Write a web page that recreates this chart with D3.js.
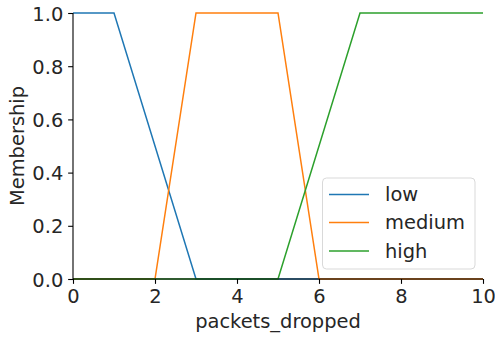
<!DOCTYPE html>
<html>
<head>
<meta charset="utf-8">
<script src="https://cdn.jsdelivr.net/npm/d3@7"></script>
<style>
  html, body { margin: 0; padding: 0; background: #fff; }
  svg { display: block; font-family: "DejaVu Sans", sans-serif; }
</style>
</head>
<body>
<svg id="chart" width="495" height="337"></svg>
<script>
// Membership functions for packets_dropped (trapezoidal breakpoints)
const seriesNames = ["low", "medium", "high"];
const seriesColors = ["#1f77b4", "#ff7f0e", "#2ca02c"];
const lowX = [0, 1, 3, 10];
const lowY = [1, 1, 0, 0];
const mediumX = [0, 2, 3, 5, 6, 10];
const mediumY = [0, 0, 1, 1, 0, 0];
const highX = [0, 5, 7, 10];
const highY = [0, 0, 1, 1];
const xTicks = [0, 2, 4, 6, 8, 10];
const yTicks = [0.0, 0.2, 0.4, 0.6, 0.8, 1.0];

const seriesX = [lowX, mediumX, highX];
const seriesY = [lowY, mediumY, highY];

const margin = { left: 73, right: 12, top: 13, bottom: 58 };
const W = 495, H = 337;
const fontSize = 19.44;
const tickLen = 4.86, tickPad = 4.86;

const svg = d3.select("#chart");
const x = d3.scaleLinear().domain([0, 10]).range([margin.left, W - margin.right]);
const y = d3.scaleLinear().domain([0, 1]).range([H - margin.bottom, margin.top]);

// Lines
const line = d3.line().x(d => x(d[0])).y(d => y(d[1]));
seriesNames.forEach((name, i) => {
  const pts = seriesX[i].map((v, j) => [v, seriesY[i][j]]);
  svg.append("path")
    .datum(pts)
    .attr("d", line)
    .attr("fill", "none")
    .attr("stroke", seriesColors[i])
    .attr("stroke-width", 1.5)
    .attr("stroke-linejoin", "miter");
});

// Axes
const xAxis = d3.axisBottom(x).tickValues(xTicks).tickFormat(d3.format("d"))
  .tickSize(tickLen).tickPadding(tickPad);
const yAxis = d3.axisLeft(y).tickValues(yTicks).tickFormat(d3.format(".1f"))
  .tickSize(tickLen).tickPadding(tickPad);

const gx = svg.append("g").attr("transform", `translate(0,${y(0)})`).call(xAxis);
const gy = svg.append("g").attr("transform", `translate(${x(0)},0)`).call(yAxis);

[gx, gy].forEach(g => {
  g.select(".domain").attr("stroke", "#000").attr("stroke-width", 1.1)
    .attr("d", null);
  g.selectAll(".tick line").attr("stroke", "#000").attr("stroke-width", 1.1);
  g.selectAll(".tick text").attr("font-size", fontSize)
    .attr("font-family", "DejaVu Sans").attr("fill", "#262626");
});
// Spines drawn as plain lines
gx.select(".domain").remove();
gy.select(".domain").remove();
svg.append("line").attr("x1", x(0)).attr("x2", x(10)).attr("y1", y(0)).attr("y2", y(0))
  .attr("stroke", "#000").attr("stroke-width", 1.1);
svg.append("line").attr("x1", x(0)).attr("x2", x(0)).attr("y1", y(0)).attr("y2", y(1))
  .attr("stroke", "#000").attr("stroke-width", 1.1);
gx.selectAll(".tick text").attr("dy", "0.71em");
gy.selectAll(".tick text").attr("dy", "0.36em");

// Axis labels
svg.append("text")
  .attr("x", (x(0) + x(10)) / 2).attr("y", 328)
  .attr("text-anchor", "middle").attr("font-size", fontSize).attr("fill", "#262626")
  .text("packets_dropped");
svg.append("text")
  .attr("transform", `translate(24,${(y(0) + y(1)) / 2}) rotate(-90)`)
  .attr("text-anchor", "middle").attr("font-size", fontSize).attr("fill", "#262626")
  .text("Membership");

// Legend
const lg = svg.append("g");
lg.append("rect")
  .attr("x", 322.5).attr("y", 178).attr("width", 152.5).attr("height", 91)
  .attr("rx", 4).attr("ry", 4)
  .attr("fill", "#fff").attr("fill-opacity", 0.8)
  .attr("stroke", "#d9d9d9").attr("stroke-width", 1);
const rowY = [194.5, 222.5, 251];
seriesNames.forEach((name, i) => {
  lg.append("line").attr("x1", 329).attr("x2", 369).attr("y1", rowY[i]).attr("y2", rowY[i])
    .attr("stroke", seriesColors[i]).attr("stroke-width", 1.5);
  lg.append("text").attr("x", 385).attr("y", rowY[i]).attr("dy", "0.36em")
    .attr("font-size", fontSize).attr("fill", "#262626").text(name);
});
</script>
</body>
</html>
